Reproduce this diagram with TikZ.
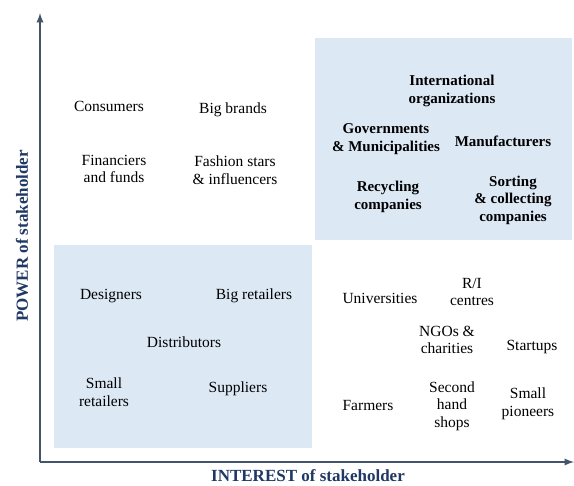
\documentclass[tikz,border=0pt]{standalone}
\usepackage{fontspec}
\setmainfont{Liberation Serif}
\usetikzlibrary{arrows}

\definecolor{axisgray}{HTML}{44546A}
\definecolor{labelblue}{HTML}{1F3864}
\definecolor{boxblue}{HTML}{DDE8F5}

\begin{document}
\begin{tikzpicture}[x=1pt,y=-1pt,
    actor/.style={align=center,inner sep=0pt,font=\fontsize{15.5}{17.5}\selectfont},
    keyactor/.style={actor,font=\fontsize{15}{17.5}\selectfont\bfseries},
    axislabel/.style={text=labelblue,inner sep=1pt,font=\fontsize{17}{20}\selectfont\bfseries}]
    \useasboundingbox[fill=white] (0,0) rectangle (574,486);
    % quadrants
    \fill[boxblue] (315,38) rectangle (572,240);
    \fill[boxblue] (54,245) rectangle (312,448);
    % axes
    \coordinate (origin) at (40,462);
    \coordinate (ytop) at (40,13);
    \coordinate (xend) at (574,462);
    \draw[axisgray,line width=2.2pt,-latex] (origin) -- (ytop);
    \draw[axisgray,line width=2.2pt,-latex] (origin) -- (xend);
    \node[axislabel,rotate=90] (power) at (22,236) {POWER of stakeholder};
    \node[axislabel] (interest) at (308,476) {INTEREST of stakeholder};
    % high power, low interest
    \node[actor] (consumers) at (109,106) {Consumers};
    \node[actor] (bigbrands) at (233,110) {Big brands};
    \node[actor] (financiers) at (114,169) {Financiers\\and funds};
    \node[actor] (fashion) at (235,170) {Fashion stars\\\& influencers};
    % high power, high interest
    \node[keyactor] (intorg) at (452,91) {International\\organizations};
    \node[keyactor] (govern) at (386,139) {Governments\\\& Municipalities};
    \node[keyactor] (manuf) at (503,141) {Manufacturers};
    \node[keyactor] (recycling) at (388,197) {Recycling\\companies};
    \node[keyactor] (sorting) at (513,200) {Sorting\\\& collecting\\companies};
    % low power, low interest
    \node[actor] (designers) at (111,296) {Designers};
    \node[actor] (bigretail) at (254,296) {Big retailers};
    \node[actor] (distrib) at (184,342) {Distributors};
    \node[actor] (smallretail) at (104,392) {Small\\retailers};
    \node[actor] (suppliers) at (238,389) {Suppliers};
    % low power, high interest
    \node[actor] (univ) at (380,298) {Universities};
    \node[actor] (ricentres) at (472,292) {R/I\\centres};
    \node[actor] (ngos) at (447,340) {NGOs \&\\charities};
    \node[actor] (startups) at (532,347) {Startups};
    \node[actor] (farmers) at (368,406) {Farmers};
    \node[actor] (secondhand) at (452,406) {Second\\hand\\shops};
    \node[actor] (pioneers) at (528,404) {Small\\pioneers};
\end{tikzpicture}
\end{document}
